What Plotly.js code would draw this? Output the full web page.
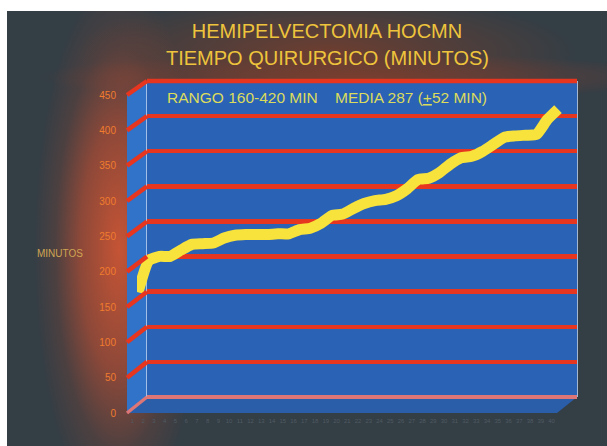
<!DOCTYPE html>
<html>
<head>
<meta charset="utf-8">
<script src="https://cdn.plot.ly/plotly-3.0.1.min.js"></script>
<style>
  html, body { margin:0; padding:0; background:#ffffff; width:607px; height:446px; overflow:hidden; }
  #bg {
    position:absolute; left:7px; top:11px; right:0; bottom:0;
    background:
      radial-gradient(ellipse 85px 270px at 112px 238px, rgba(205,85,52,0.95) 0%, rgba(190,78,50,0.65) 45%, rgba(150,70,50,0.25) 75%, rgba(150,70,50,0) 100%),
      radial-gradient(ellipse 250px 60px at 320px 42px, rgba(125,62,42,0.8) 0%, rgba(125,62,42,0) 100%),
      radial-gradient(ellipse 320px 24px at 350px 66px, rgba(155,62,40,0.6) 0%, rgba(155,62,40,0) 100%),
      #343e45;
  }
  #chart { position:absolute; left:0; top:0; width:607px; height:446px; }
</style>
</head>
<body>
<div id="bg"></div>
<div id="chart"></div>
<script>
// ---- data ----
const casos = [1,2,3,4,5,6,7,8,9,10,11,12,13,14,15,16,17,18,19,20,
               21,22,23,24,25,26,27,28,29,30,31,32,33,34,35,36,37,38,39,40];
const minutos = [160,205,211,211,220,228,229,230,237,241,
                 242,242,242,243,243,249,251,258,269,271,
                 279,286,290,292,297,307,320,322,330,342,
                 351,353,360,370,380,382,383,384,405,420];
const ticksY = [0,50,100,150,200,250,300,350,400,450];
const tituloL1 = 'HEMIPELVECTOMIA HOCMN';
const tituloL2 = 'TIEMPO QUIRURGICO (MINUTOS)';
const nota = 'RANGO 160-420 MIN\u00a0\u00a0\u00a0\u00a0MEDIA 287 (<u>+</u>52 MIN)';
const ejeY = 'MINUTOS';

// ---- geometry of the pseudo-3D box (page pixels) ----
const L = 127, R = 577, T = 81, B = 413;      // plot area
const W = R - L, H = B - T;
const px = v => (v - L) / W;                  // page x -> paper x
const py = v => (B - v) / H;                  // page y -> paper y
const backX0 = px(147), backY0 = py(397);     // back wall bottom-left
const frontTop = py(95);                      // front axis 450 position
const midY0 = py(405), midY1 = py(88);
const midX0 = px(137), midX1 = px(567);

const RED = '#e6361f';
const FONT = 'Liberation Sans, Arial, sans-serif';
const ymax = ticksY[ticksY.length - 1];

const shapes = [
  // back wall
  {type:'rect', xref:'paper', yref:'paper', x0:backX0, x1:1, y0:backY0, y1:1,
   fillcolor:'#2a62b6', line:{width:0}, layer:'below'},
  // side wall
  {type:'path', xref:'paper', yref:'paper', layer:'below',
   path:`M 0 0 L ${backX0} ${backY0} L ${backX0} 1 L 0 ${frontTop} Z`,
   fillcolor:'#3073c8', line:{width:0}},
  // floor
  {type:'path', xref:'paper', yref:'paper', layer:'below',
   path:`M 0 0 L ${backX0} ${backY0} L 1 ${backY0} L ${px(557)} 0 Z`,
   fillcolor:'#2b5ea8', line:{width:0}}
];
// diagonal grid lines on the side wall
ticksY.forEach(v => {
  shapes.push({type:'line', xref:'paper', yref:'paper',
    x0:0, y0: v / ymax * frontTop,
    x1:backX0, y1: backY0 + v / ymax * (1 - backY0),
    line:{color: v === 0 ? '#dd7676' : RED, width: v === 0 ? 3.5 : 4.5}});
});
// top edge of back wall
shapes.push({type:'line', xref:'paper', yref:'paper', x0:backX0, x1:1, y0:1, y1:1,
  line:{color:RED, width:4.5}});

const traces = [
  {x:[], y:[], xaxis:'x', yaxis:'y', hoverinfo:'skip', showlegend:false},
  {x:[], y:[], xaxis:'x3', yaxis:'y2', hoverinfo:'skip', showlegend:false},
  {x:casos, y:minutos, xaxis:'x2', yaxis:'y3', type:'scatter', mode:'lines',
   line:{color:'#f8e23c', width:11, shape:'spline', smoothing:0.5},
   cliponaxis:false, showlegend:false, hoverinfo:'x+y'}
];

const pxPerCase = (558 - 138) / (casos.length - 1);
const x2lo = casos[0] - 1 / pxPerCase;
const x2hi = x2lo + 430 / pxPerCase;

const layout = {
  width:607, height:446,
  margin:{l:L, r:607 - R, t:T, b:446 - B, pad:0},
  paper_bgcolor:'rgba(0,0,0,0)',
  plot_bgcolor:'rgba(0,0,0,0)',
  showlegend:false,
  title:{text:tituloL1, xref:'container', yref:'container',
         x:327/607, xanchor:'center', y:1 - 31/446, yanchor:'middle',
         font:{family:FONT, size:20, color:'#eec43c'}},
  xaxis:{domain:[backX0, 1], range:[0,1], showgrid:false, zeroline:false,
         showticklabels:false, showline:false, fixedrange:true},
  yaxis:{domain:[backY0, 1], range:[0, ymax], anchor:'x', tickvals:ticksY,
         showgrid:true, gridcolor:RED, gridwidth:4.5,
         zeroline:true, zerolinecolor:'#dd7676', zerolinewidth:4,
         showticklabels:false, showline:true, mirror:true,
         linecolor:'rgba(185,205,235,0.85)', linewidth:1, fixedrange:true},
  xaxis2:{domain:[midX0, midX1], range:[x2lo, x2hi], anchor:'y3', visible:false, fixedrange:true},
  yaxis2:{domain:[0, frontTop], range:[0, ymax], anchor:'x3', side:'left',
          tickvals:ticksY, ticks:'outside', ticklen:8, tickcolor:'rgba(0,0,0,0)',
          showgrid:false, zeroline:false, showline:false,
          tickfont:{family:FONT, size:10, color:'#f07c2e'}, fixedrange:true},
  yaxis3:{domain:[midY0, midY1], range:[0, ymax], anchor:'x2', visible:false, fixedrange:true},
  xaxis3:{domain:[0, px(557)], range:[casos[0] - 0.5, casos[casos.length-1] + 0.5], anchor:'y2',
          tickvals:casos, ticktext:casos.map(String), tickangle:0,
          ticks:'outside', ticklen:2, tickcolor:'rgba(0,0,0,0)',
          showgrid:false, zeroline:false, showline:false,
          tickfont:{family:FONT, size:6, color:'#4f5b63'}, fixedrange:true},
  shapes:shapes,
  annotations:[
    {text:tituloL2, xref:'paper', yref:'paper', x:px(327), y:py(58),
     xanchor:'center', yanchor:'middle', showarrow:false,
     font:{family:FONT, size:20, color:'#eec43c'}},
    {text:nota, xref:'paper', yref:'paper', x:px(165), y:py(98),
     xanchor:'left', yanchor:'middle', showarrow:false,
     font:{family:FONT, size:15.5, color:'#dcdc5c'}},
    {text:ejeY, xref:'paper', yref:'paper', x:px(60), y:py(253),
     xanchor:'center', yanchor:'middle', showarrow:false,
     font:{family:FONT, size:10, color:'#cfa553'}}
  ]
};

Plotly.newPlot('chart', traces, layout, {staticPlot:true, displayModeBar:false});
</script>
</body>
</html>
